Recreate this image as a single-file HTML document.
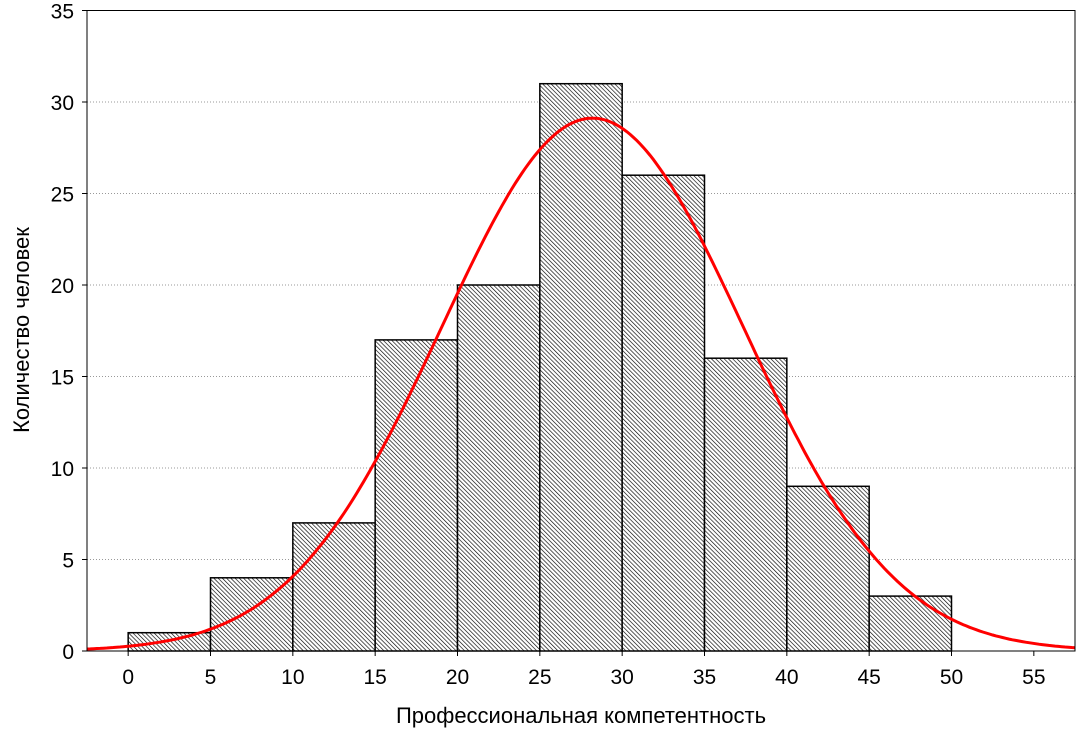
<!DOCTYPE html>
<html><head><meta charset="utf-8"><style>
body{margin:0;background:#fff;}
svg text{font-family:"Liberation Sans",sans-serif;fill:#000;}
</style></head><body>
<svg id="chart" width="1083" height="734" xmlns="http://www.w3.org/2000/svg">
<defs>
<pattern id="hatch" patternUnits="userSpaceOnUse" width="3" height="3" patternTransform="rotate(-45)">
<rect width="3" height="3" fill="#fff"/>
<line x1="0" y1="0" x2="0" y2="3" stroke="#000" stroke-width="1.3"/>
</pattern>
</defs>
<g id="grid"></g>
<g id="bars"></g>
<path id="curve" fill="none" stroke="#f00" stroke-width="3"/>
<rect x="87" y="10.5" width="988" height="640.5" fill="none" stroke="#000" stroke-width="1"/>
<g id="ticks"></g>
<text x="581" y="723" font-size="22" text-anchor="middle">Профессиональная компетентность</text>
<text x="0" y="0" font-size="22" text-anchor="middle" transform="translate(29,330) rotate(-90)">Количество человек</text>
</svg>
<script>
const binStarts=[0,5,10,15,20,25,30,35,40,45];
const counts=[1,4,7,17,20,31,26,16,9,3];
const xTicks=[0,5,10,15,20,25,30,35,40,45,50,55];
const yTicks=[0,5,10,15,20,25,30,35];
const fitMean=[28.2];
const fitSd=[9.18];
const binWidth=5;
const X0=87,X1=1075,Y0=651,Y1=10.5,xmin=-2.5,xmax=57.5,ymin=0,ymax=35;
const sx=v=>X0+(v-xmin)/(xmax-xmin)*(X1-X0);
const sy=v=>Y0-(v-ymin)/(ymax-ymin)*(Y0-Y1);
const NS='http://www.w3.org/2000/svg';
const grid=document.getElementById('grid'),bars=document.getElementById('bars'),ticks=document.getElementById('ticks');
yTicks.forEach(t=>{
  if(t>0&&t<35){const l=document.createElementNS(NS,'line');
  
  
  l.setAttribute('x1',X0);l.setAttribute('x2',X1);l.setAttribute('y1',sy(t));l.setAttribute('y2',sy(t));
  l.setAttribute('stroke','#999');l.setAttribute('stroke-dasharray','1,2');grid.appendChild(l);}
  const tk=document.createElementNS(NS,'line');
  
  
  tk.setAttribute('x1',X0-5);tk.setAttribute('x2',X0);tk.setAttribute('y1',sy(t));tk.setAttribute('y2',sy(t));tk.setAttribute('stroke','#000');ticks.appendChild(tk);
  const tx=document.createElementNS(NS,'text');
  
  
  tx.setAttribute('x',X0-13);tx.setAttribute('y',sy(t)+8);tx.setAttribute('text-anchor','end');tx.setAttribute('font-size','21');tx.textContent=t;ticks.appendChild(tx);
});
xTicks.forEach(t=>{
  const tk=document.createElementNS(NS,'line');
  
  
  tk.setAttribute('x1',sx(t));tk.setAttribute('x2',sx(t));tk.setAttribute('y1',Y0);tk.setAttribute('y2',Y0+5);tk.setAttribute('stroke','#000');ticks.appendChild(tk);
  const tx=document.createElementNS(NS,'text');
  
  
  tx.setAttribute('x',sx(t));tx.setAttribute('y',684);tx.setAttribute('text-anchor','middle');tx.setAttribute('font-size','21');tx.textContent=t;ticks.appendChild(tx);
});
binStarts.forEach((b,i)=>{
  const r=document.createElementNS(NS,'rect');
  
  
  r.setAttribute('x',sx(b));r.setAttribute('width',sx(b+binWidth)-sx(b));
  r.setAttribute('y',sy(counts[i]));r.setAttribute('height',sy(0)-sy(counts[i]));
  r.setAttribute('fill','url(#hatch)');r.setAttribute('stroke','#000');r.setAttribute('stroke-width','1.5');
  bars.appendChild(r);
});
const n=counts.reduce((a,b)=>a+b,0);
let d='';
for(let k=0;k<=300;k++){
  const v=xmin+(xmax-xmin)*k/300;
  const z=(v-fitMean[0])/fitSd[0];
  const y=n*binWidth/(fitSd[0]*Math.sqrt(2*Math.PI))*Math.exp(-z*z/2);
  d+=(k?'L':'M')+sx(v).toFixed(1)+','+sy(y).toFixed(1);
}
document.getElementById('curve').setAttribute('d',d);
</script>
</body></html>
